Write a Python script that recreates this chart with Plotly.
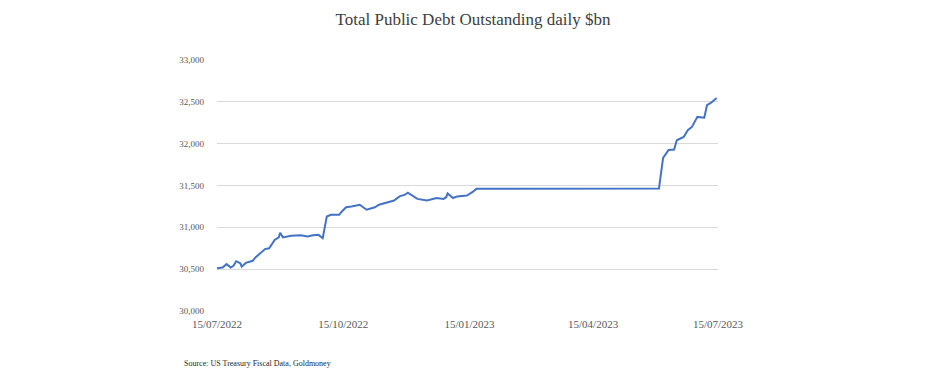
import plotly.graph_objects as go

dates = [
    "2022-07-15", "2022-07-19", "2022-07-22", "2022-07-25", "2022-07-27", "2022-07-29",
    "2022-08-01", "2022-08-02", "2022-08-05", "2022-08-10", "2022-08-12", "2022-08-16",
    "2022-08-19", "2022-08-22", "2022-08-24", "2022-08-26", "2022-08-29", "2022-08-30",
    "2022-09-01", "2022-09-07", "2022-09-14", "2022-09-19", "2022-09-23", "2022-09-27",
    "2022-09-30", "2022-10-03", "2022-10-06", "2022-10-12", "2022-10-14", "2022-10-17",
    "2022-10-21", "2022-10-27", "2022-11-01", "2022-11-07", "2022-11-10", "2022-11-15",
    "2022-11-21", "2022-11-25", "2022-11-29", "2022-12-01", "2022-12-05", "2022-12-08",
    "2022-12-15", "2022-12-19", "2022-12-22", "2022-12-27", "2022-12-29", "2022-12-30",
    "2023-01-03", "2023-01-06", "2023-01-13", "2023-01-17", "2023-01-20", "2023-06-02",
    "2023-06-05", "2023-06-09", "2023-06-13", "2023-06-15", "2023-06-20", "2023-06-23",
    "2023-06-26", "2023-06-30", "2023-07-05", "2023-07-07", "2023-07-10", "2023-07-14",
]
debt = [
    30510, 30520, 30560, 30520, 30540, 30595,
    30570, 30530, 30575, 30600, 30640, 30700,
    30740, 30750, 30800, 30850, 30880, 30935,
    30880, 30900, 30905, 30890, 30905, 30910,
    30870, 31130, 31150, 31150, 31190, 31240,
    31250, 31270, 31210, 31240, 31270, 31290,
    31320, 31370, 31390, 31415, 31370, 31340,
    31320, 31340, 31350, 31340, 31360, 31405,
    31350, 31370, 31380, 31420, 31460, 31465,
    31830, 31925, 31930, 32040, 32080, 32160,
    32200, 32320, 32310, 32460, 32490, 32545,
]

tick_dates = ["2022-07-15", "2022-10-15", "2023-01-15", "2023-04-15", "2023-07-15"]
tick_labels = ["15/07/2022", "15/10/2022", "15/01/2023", "15/04/2023", "15/07/2023"]
y_ticks = [30000, 30500, 31000, 31500, 32000, 32500, 33000]
y_labels = ["30,000", "30,500", "31,000", "31,500", "32,000", "32,500", "33,000"]

title = "Total Public Debt Outstanding daily $bn"
source = "Source: US Treasury Fiscal Data, Goldmoney"

serif = "Liberation Serif, Times New Roman, serif"

fig = go.Figure()
fig.add_trace(go.Scatter(
    x=dates, y=debt, mode="lines",
    line=dict(color="#4472C4", width=2),
    hoverinfo="x+y", showlegend=False,
))

fig.update_layout(
    width=930, height=378,
    paper_bgcolor="white", plot_bgcolor="white",
    margin=dict(l=209, r=220, t=52, b=75),
    title=dict(text=title, x=0.5, xanchor="center", y=0.971, yanchor="middle",
               font=dict(family=serif, size=17, color="#404040")),
    xaxis=dict(
        type="date", range=["2022-07-15", "2023-07-15"],
        tickvals=tick_dates, ticktext=tick_labels,
        showgrid=False, zeroline=False, showline=False,
        ticks="", ticklabelstandoff=5,
        tickfont=dict(family=serif, size=11, color="#595959"),
    ),
    yaxis=dict(
        range=[30000, 33000],
        tickvals=y_ticks, ticktext=y_labels,
        showgrid=True, gridcolor="#d9d9d9", gridwidth=1,
        zeroline=False, showline=False, ticks="",
        ticklabelstandoff=12,
        tickfont=dict(family=serif, size=9, color="#595959"),
    ),
    annotations=[dict(
        text=source, xref="paper", yref="paper", x=-0.07, y=-0.211,
        xanchor="left", yanchor="middle", showarrow=False,
        font=dict(family=serif, size=8, color="#262626"),
    )],
)

fig.write_html("out.html")
